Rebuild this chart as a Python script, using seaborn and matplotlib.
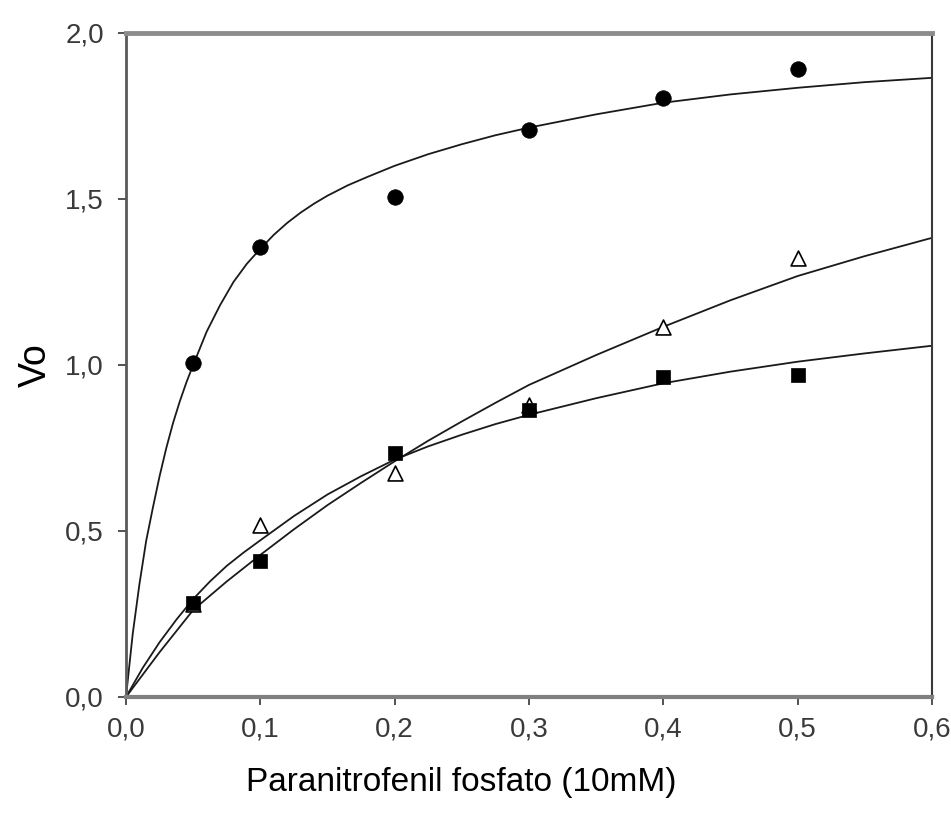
import matplotlib
matplotlib.use("Agg")
import matplotlib.pyplot as plt
import seaborn as sns

# ---- data ----
circle_x = [0.05, 0.1, 0.2, 0.3, 0.4, 0.5]
circle_y = [1.005, 1.355, 1.507, 1.708, 1.805, 1.893]

triangle_x = [0.05, 0.1, 0.2, 0.3, 0.4, 0.5]
triangle_y = [0.28, 0.518, 0.676, 0.88, 1.115, 1.322]

square_x = [0.05, 0.1, 0.2, 0.3, 0.4, 0.5]
square_y = [0.282, 0.41, 0.734, 0.864, 0.965, 0.970]

# fitted curves
circle_curve_x = [0.0, 0.005, 0.01, 0.015, 0.02, 0.025, 0.03, 0.035, 0.04, 0.045, 0.05,
                  0.06, 0.07, 0.08, 0.09, 0.10, 0.11, 0.12, 0.13, 0.14, 0.15, 0.165,
                  0.18, 0.20, 0.225, 0.25, 0.275, 0.30, 0.35, 0.40, 0.45, 0.50, 0.55, 0.60]
circle_curve_y = [0.0, 0.19, 0.34, 0.47, 0.57, 0.665, 0.75, 0.825, 0.89, 0.948, 1.00,
                  1.10, 1.18, 1.25, 1.305, 1.35, 1.392, 1.428, 1.459, 1.486, 1.51, 1.541,
                  1.567, 1.60, 1.635, 1.665, 1.692, 1.715, 1.755, 1.79, 1.815, 1.835, 1.852, 1.865]

square_curve_x = [0.0, 0.0125, 0.025, 0.0375, 0.05, 0.0625, 0.075, 0.0875, 0.10, 0.125,
                  0.15, 0.175, 0.20, 0.225, 0.25, 0.275, 0.30, 0.35, 0.40, 0.45, 0.50, 0.55, 0.60]
square_curve_y = [0.0, 0.088, 0.165, 0.233, 0.295, 0.348, 0.395, 0.435, 0.472, 0.545,
                  0.61, 0.665, 0.715, 0.755, 0.79, 0.822, 0.85, 0.90, 0.945, 0.98, 1.01, 1.035, 1.058]

triangle_curve_x = [0.0, 0.025, 0.05, 0.075, 0.10, 0.125, 0.15, 0.175, 0.20, 0.225, 0.25,
                    0.275, 0.30, 0.35, 0.40, 0.45, 0.50, 0.55, 0.60]
triangle_curve_y = [0.0, 0.135, 0.262, 0.348, 0.428, 0.505, 0.578, 0.645, 0.71, 0.772, 0.83,
                    0.886, 0.94, 1.03, 1.115, 1.195, 1.268, 1.328, 1.383]

x_ticks = [0.0, 0.1, 0.2, 0.3, 0.4, 0.5, 0.6]
x_tick_labels = ["0,0", "0,1", "0,2", "0,3", "0,4", "0,5", "0,6"]
y_ticks = [0.0, 0.5, 1.0, 1.5, 2.0]
y_tick_labels = ["0,0", "0,5", "1,0", "1,5", "2,0"]

x_label = "Paranitrofenil fosfato (10mM)"
y_label = "Vo"

# ---- drawing ----
sns.set_theme(style="white")
plt.rcParams["font.family"] = ["Liberation Sans", "DejaVu Sans"]

fig = plt.figure(figsize=(9.51, 8.25), dpi=100)
ax = fig.add_axes([126 / 951, 1 - 697 / 825, (932 - 126) / 951, (697 - 33) / 825])

line_kw = dict(color="#1a1a1a", linewidth=1.3, estimator=None, sort=False, ax=ax)
sns.lineplot(x=circle_curve_x, y=circle_curve_y, **line_kw)
sns.lineplot(x=square_curve_x, y=square_curve_y, **line_kw)
sns.lineplot(x=triangle_curve_x, y=triangle_curve_y, **line_kw)

sns.scatterplot(x=circle_x, y=circle_y, marker="o", s=125, color="black",
                edgecolor="black", linewidth=0.5, ax=ax, zorder=3)
sns.scatterplot(x=triangle_x, y=triangle_y, marker="^", s=115, color="white",
                edgecolor="black", linewidth=1.2, ax=ax, zorder=3)
sns.scatterplot(x=square_x, y=square_y, marker="s", s=115, color="black",
                edgecolor="black", linewidth=0.5, ax=ax, zorder=4)

ax.set_xlim(0, 0.6)
ax.set_ylim(0, 2.0)
ax.set_xticks(x_ticks)
ax.set_xticklabels(x_tick_labels)
ax.set_yticks(y_ticks)
ax.set_yticklabels(y_tick_labels)

ax.tick_params(axis="both", which="major", direction="out", length=6,
               width=1.3, color="#444444", labelsize=20, labelcolor="#3a3a3a")
ax.tick_params(axis="y", pad=10)
ax.tick_params(axis="x", pad=8)
ax.tick_params(top=False, right=False, bottom=True, left=True)

ax.spines["top"].set_color("#8c8c8c")
ax.spines["top"].set_linewidth(3.5)
ax.spines["bottom"].set_color("#808080")
ax.spines["bottom"].set_linewidth(3.0)
ax.spines["left"].set_color("#5a5a5a")
ax.spines["left"].set_linewidth(2.0)
ax.spines["right"].set_color("#3a3a3a")
ax.spines["right"].set_linewidth(1.5)
for sp in ax.spines.values():
    sp.set_visible(True)

ax.set_xlabel(x_label, fontsize=24, color="black", labelpad=16)
ax.xaxis.set_label_coords((461 - 126) / 806, -0.105)
ax.set_ylabel(y_label, fontsize=27, color="black", labelpad=8)

ax.grid(False)
fig.savefig("out.png", dpi=100)
